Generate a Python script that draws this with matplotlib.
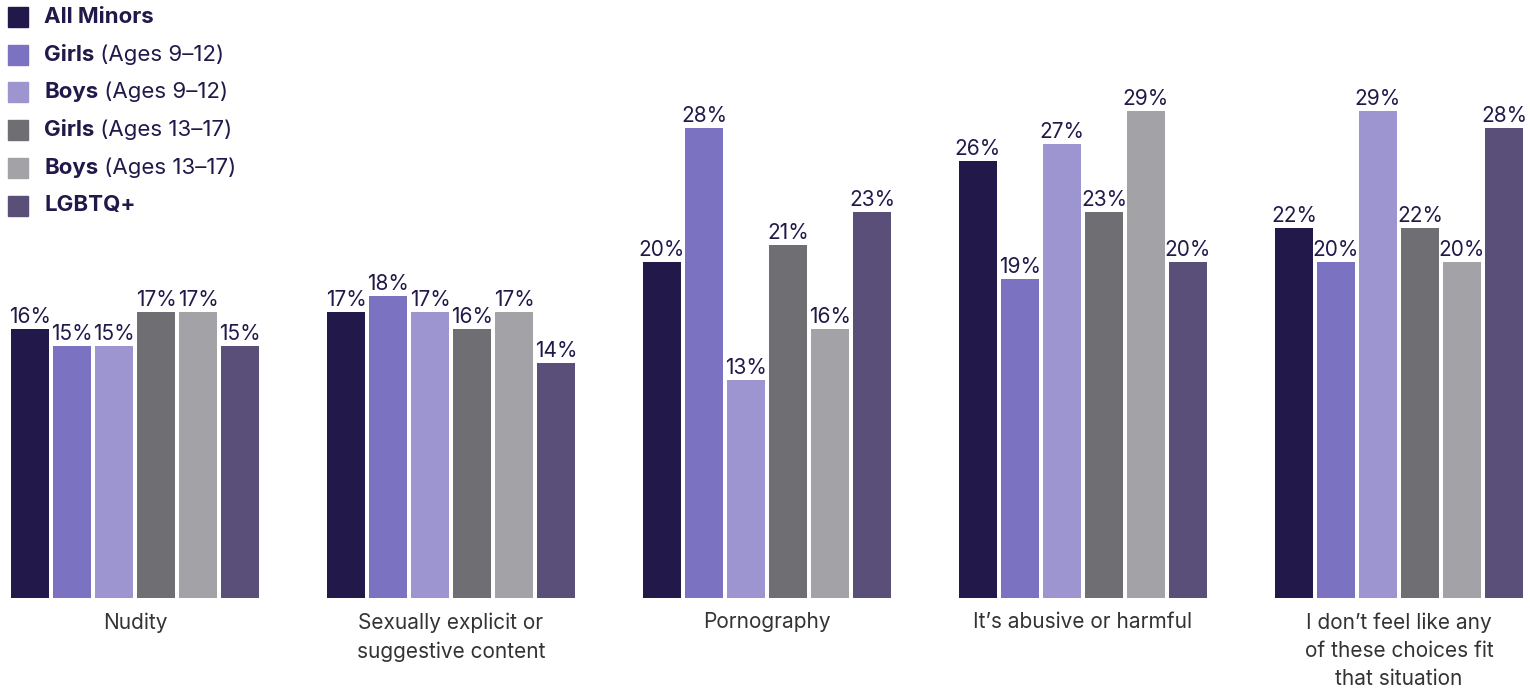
import numpy as np
import matplotlib.pyplot as plt

categories = ["Nudity", "Sexually explicit or\nsuggestive content", "Pornography",
              "It\u2019s abusive or harmful",
              "I don\u2019t feel like any\nof these choices fit\nthat situation"]
series_bold = ["All Minors", "Girls", "Boys", "Girls", "Boys", "LGBTQ+"]
series_rest = ["", " (Ages 9\u201312)", " (Ages 9\u201312)", " (Ages 13\u201317)", " (Ages 13\u201317)", ""]
values = [
    [16, 17, 20, 26, 22],  # All Minors
    [15, 18, 28, 19, 20],  # Girls 9-12
    [15, 17, 13, 27, 29],  # Boys 9-12
    [17, 16, 21, 23, 22],  # Girls 13-17
    [17, 17, 16, 29, 20],  # Boys 13-17
    [15, 14, 23, 20, 28],  # LGBTQ+
]
colors = ["#22184A", "#7B72C2", "#9D95D0", "#6F6E73", "#A3A2A7", "#594F78"]
navy = "#22184A"

plt.rcParams['font.family'] = ['Inter', 'DejaVu Sans']

fig = plt.figure(figsize=(15.3, 6.9), dpi=100)
ax = fig.add_axes([0, 92 / 690, 1, 598 / 690])
ax.set_xlim(-135 / 316, (1530 - 135) / 316)
ax.set_ylim(0, 598 / 16.8)
ax.axis('off')

x = np.arange(len(categories))
pitch = 42 / 316
width = 38 / 316
for j, vals in enumerate(values):
    xs = x + (j - 2.5) * pitch
    ax.bar(xs, vals, width=width, color=colors[j])
    for xi, v in zip(xs, vals):
        ax.text(xi, v + 0.12, f"{v}%", ha='center', va='bottom',
                fontsize=15, color=navy)

for xi, c in zip(x, categories):
    ax.text(xi, -0.85, c, ha='center', va='top', fontsize=15, color="#333333",
            linespacing=1.5)

# legend
for i, (b, r) in enumerate(zip(series_bold, series_rest)):
    yc = 690 - (17 + i * 37.7)
    fig.patches.append(plt.Rectangle((8 / 1530, (yc - 10) / 690), 20 / 1530, 20 / 690,
                                     transform=fig.transFigure, color=colors[i]))
    t = fig.text(44 / 1530, yc / 690, b, fontsize=16, fontweight='bold',
                 color=navy, va='center')
    if r:
        ax.annotate(r, xy=(1, 0), xycoords=t, va='bottom', ha='left',
                    fontsize=16, color=navy, annotation_clip=False)

fig.savefig("out.png", dpi=100)
